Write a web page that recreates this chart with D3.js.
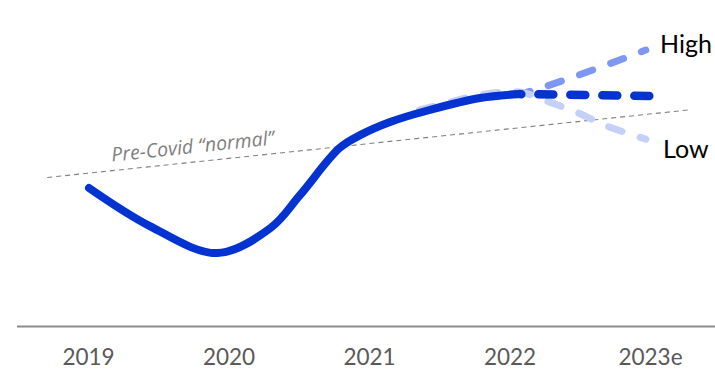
<!DOCTYPE html>
<html>
<head>
<meta charset="utf-8">
<script src="https://cdn.jsdelivr.net/npm/d3@7"></script>
<style>
  html, body { margin: 0; padding: 0; background: #fff; }
  svg { display: block; }
</style>
</head>
<body>
<svg id="chart" width="715" height="370"></svg>
<script>
// ---- data ----
const yearLabels = ["2019", "2020", "2021", "2022", "2023e"];
const yearTicks = [2019, 2020, 2021, 2022, 2023];

// actual (solid) path: fractional year, index value
const actualYears  = [2019.007, 2019.44, 2019.92, 2020.30, 2020.51, 2020.79, 2020.94, 2021.15, 2021.43, 2021.79, 2022.07];
const actualValues = [46.0, 33.3, 24.3, 32.7, 43.7, 59.3, 63.7, 68.0, 72.0, 76.0, 77.3];

// base forecast (dark dashed)
const baseYears  = [2022.07, 2023.0];
const baseValues = [77.3, 76.7];

// high scenario
const highYears  = [2021.36, 2021.58, 2021.79, 2022.07, 2022.97];
const highValues = [71.0, 73.7, 76.0, 77.3, 92.0];

// low scenario
const lowYears  = [2021.36, 2021.58, 2021.79, 2022.07, 2022.28, 2022.49, 2022.69, 2022.97];
const lowValues = [72.0, 74.7, 77.0, 78.0, 74.7, 71.0, 66.7, 62.3];

// pre-covid trend
const trendYears  = [2018.71, 2023.27];
const trendValues = [49.5, 72.0];

const scenarioLabels = ["High", "Low"];
const trendLabel = "Pre-Covid \u201cnormal\u201d";

// ---- layout ----
const svg = d3.select("#chart");
const W = 715, H = 370;
const x = d3.scaleLinear().domain([2019, 2023]).range([88, 650]);
const y = d3.scaleLinear().domain([0, 100]).range([326, 26]);

const zip = (xs, vs) => xs.map((d, i) => [d, vs[i]]);
const line = d3.line().x(d => x(d[0])).y(d => y(d[1])).curve(d3.curveCatmullRom.alpha(0.5));

const colMain = "#0433D2", colHigh = "#7D97F3", colLow = "#C4D0F8";

// pre-covid trend line
const trend = zip(trendYears, trendValues);
svg.append("path")
  .attr("d", d3.line().x(d => x(d[0])).y(d => y(d[1]))(trend))
  .attr("fill", "none").attr("stroke", "#808080").attr("stroke-width", 1.1)
  .attr("stroke-dasharray", "5 4");

// trend label
const x0 = x(trendYears[0]), y0 = y(trendValues[0]);
const x1 = x(trendYears[1]), y1 = y(trendValues[1]);
const ang = Math.atan2(y1 - y0, x1 - x0) * 180 / Math.PI;
const lx = 113;
const ly = y0 + (lx - x0) * (y1 - y0) / (x1 - x0);
svg.append("text")
  .attr("transform", `translate(${lx},${ly}) rotate(${ang}) translate(0,-9)`)
  .attr("font-family", "'Open Sans', sans-serif")
  .attr("font-style", "italic")
  .attr("font-size", 19.5)
  .attr("fill", "#7F7F7F")
  .text(trendLabel);

// axis baseline
svg.append("line")
  .attr("x1", 17).attr("x2", W).attr("y1", 326.5).attr("y2", 326.5)
  .attr("stroke", "#8C8C8C").attr("stroke-width", 2);

// x axis labels
const ax = svg.append("g").attr("transform", "translate(0,344)")
  .call(d3.axisBottom(x).tickValues(yearTicks).tickSize(0)
    .tickFormat((d, i) => yearLabels[i]));
ax.select(".domain").remove();
ax.selectAll("text")
  .attr("font-family", "Lato, 'Open Sans', sans-serif")
  .attr("font-size", 22.5)
  .attr("fill", "#595959")
  .attr("dy", 0).attr("y", 21);

// scenario lines (behind)
svg.append("path").attr("d", line(zip(highYears, highValues)))
  .attr("fill", "none").attr("stroke", colHigh).attr("stroke-width", 7)
  .attr("stroke-linecap", "round").attr("stroke-dasharray", "14 19");
svg.append("path").attr("d", line(zip(lowYears, lowValues)))
  .attr("fill", "none").attr("stroke", colLow).attr("stroke-width", 7)
  .attr("stroke-linecap", "round").attr("stroke-dasharray", "14 19");

// base forecast
svg.append("path").attr("d", line(zip(baseYears, baseValues)))
  .attr("fill", "none").attr("stroke", colMain).attr("stroke-width", 8.5)
  .attr("stroke-linecap", "round").attr("stroke-dasharray", "15 17")
  .attr("stroke-dashoffset", -19);

// actual solid
svg.append("path").attr("d", line(zip(actualYears, actualValues)))
  .attr("fill", "none").attr("stroke", colMain).attr("stroke-width", 8)
  .attr("stroke-linecap", "round");

// scenario labels
svg.append("text").attr("x", 660).attr("y", 53)
  .attr("font-family", "Lato, 'Open Sans', sans-serif").attr("font-size", 25)
  .attr("fill", "#000").text(scenarioLabels[0]);
svg.append("text").attr("x", 663).attr("y", 158)
  .attr("font-family", "Lato, 'Open Sans', sans-serif").attr("font-size", 25)
  .attr("fill", "#000").text(scenarioLabels[1]);
</script>
</body>
</html>
